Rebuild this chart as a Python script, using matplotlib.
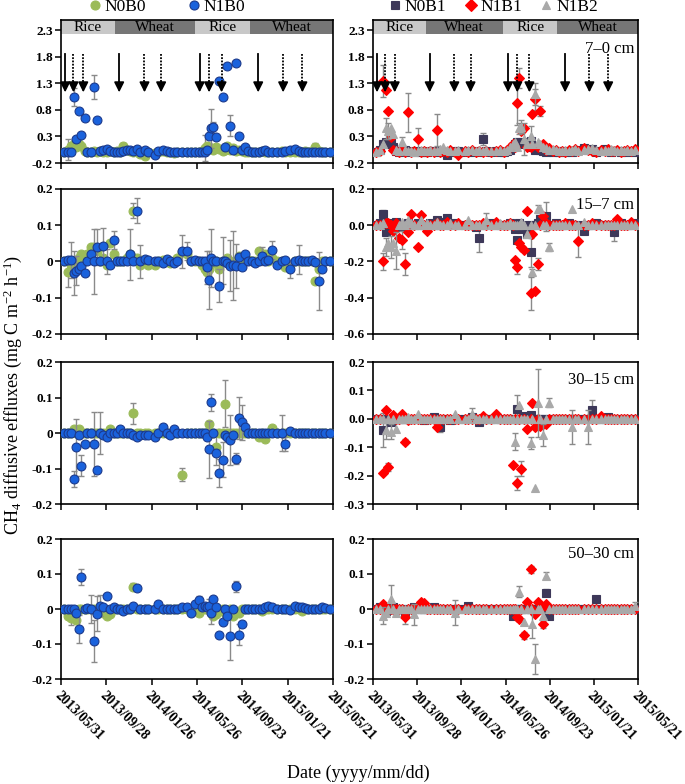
import numpy as np
import matplotlib
matplotlib.use('Agg')
import matplotlib.pyplot as plt
import matplotlib.dates as mdates
import matplotlib.transforms as mtransforms
from matplotlib.lines import Line2D

plt.rcParams['font.family'] = ['Liberation Serif', 'DejaVu Serif']
plt.rcParams['mathtext.fontset'] = 'custom'
plt.rcParams['mathtext.rm'] = 'Liberation Serif'
plt.rcParams['mathtext.it'] = 'Liberation Serif:italic'

# sampling days after 2013/05/31
start = '2013-05-31'
sample_days = [9, 18, 26, 34, 40, 48, 53, 63, 70, 79, 87, 95, 102, 112, 121, 130, 139,
               148, 156, 165, 174, 183, 190, 200, 209, 223, 231, 249, 258, 269, 280, 289, 298, 307, 320, 333, 344,
               355, 364, 373, 380, 386, 391, 397, 403, 410, 419, 428, 433, 440, 448, 455, 462, 471, 479, 488, 496, 505,
               514, 523, 532, 541, 549, 558, 572, 585, 594, 607, 620, 629, 638, 647, 655, 664, 673, 682, 691, 700, 713]

tick_dates = ['2013-05-31', '2013-09-28', '2014-01-26', '2014-05-26', '2014-09-23', '2015-01-21', '2015-05-21']
season_edges = ['2013-05-31', '2013-10-21', '2014-05-20', '2014-10-13', '2015-05-21']
season_names = ['Rice', 'Wheat', 'Rice', 'Wheat']
fert_solid = ['2013-06-11', '2013-11-01', '2014-06-02', '2014-11-04']
fert_dotted = ['2013-07-03', '2013-07-29', '2014-01-07', '2014-02-20',
               '2014-06-27', '2014-07-30', '2015-01-09', '2015-03-01']

depths = ['7\u20130 cm', '15\u20137 cm', '30\u201315 cm', '50\u201330 cm']

# ---- left column: N0B0, N1B0 ----
n0b0_7_0 = [0, .05, .12, .15, .1, .15, .12, .02, 0, 0, .02, .01, .02, .01, 0, .02, 0,
            .02, 0, .12, .05, .03, .01, 0, -.03, -.06, 0, -.02, 0, .02, 0, 0, -.02, 0, 0, 0, 0,
            0, 0, .02, .08, .12, .1, .08, .05, .1, .06, .03, .05, .12, .05, .08, .02, .04, .02, 0, 0, 0,
            0, 0, .02, 0, 0, 0, 0, .02, 0, 0, 0, 0, 0, .02, 0, .03, .1, .02, 0, 0, 0]
n1b0_7_0 = [0, 0, 0, 1.05, .25, .78, .32, .65, 0, 0, 1.23, .6, .02, .05, .07, .03, .01,
            0, 0, .02, .04, .05, .02, .06, .01, .04, .01, -.05, .02, .04, .03, .01, 0, .01, 0, .01, 0,
            0, 0, 0, 0, .05, .3, .45, .47, .28, 1.35, 1.05, .1, 1.63, .5, .05, 1.68, .3, .05, .1, .02, 0,
            0, 0, .02, .04, 0, 0, 0, 0, .03, .05, .06, .02, 0, 0, 0, 0, 0, 0, 0, 0, 0]
err_n0b0_7_0 = {1: .2, 19: .06, 40: .25, 74: .08}
err_n1b0_7_0 = {3: .17, 10: .22, 43: .37, 44: .1, 50: .2, 25: .05, 70: .06}

n0b0_15_7 = [0, -.03, -.01, -.02, -.01, .01, .02, 0, .02, .04, .04, .03, 0, .01, -.01, .05, .02,
             0, 0, 0, .01, .02, .14, .01, -.01, 0, -.01, -.01, 0, .005, 0, -.005, 0, .01, .025, .02, 0,
             0, 0, -.01, -.02, -.03, -.02, 0, -.005, 0, -.02, 0, 0, .01, 0, -.005, 0, .015, 0, 0, .005, 0,
             0, .028, .01, .02, 0, .01, 0, 0, -.015, -.01, 0, 0, 0, 0, 0, 0, -.055, -.02, 0, 0, 0]
n1b0_15_7 = [0, .005, .005, -.032, -.025, -.02, -.012, -.033, 0, .02, 0, .04, 0, .043, 0, -.01, .06,
             0, 0, 0, 0, .02, 0, .14, 0, .008, .005, 0, 0, -.005, .006, 0, -.005, 0, .028, .03, 0,
             .005, 0, 0, 0, -.016, -.051, .01, 0, 0, -.067, .002, 0, -.005, -.012, -.01, -.012, .012, -.014, .02, 0, 0,
             -.005, 0, .016, 0, .005, .032, -.01, 0, .005, -.021, 0, .005, 0, 0, 0, .005, -.002, -.055, -.021, 0, 0]
err_n0b0_15_7 = {1: .04, 22: .02}
err_n1b0_15_7 = {2: .05, 3: .06, 4: .04, 10: .09, 11: .05, 13: .05, 14: .035, 16: .025, 21: .07, 23: .035,
                 24: .045, 34: .045, 35: .025, 41: .045, 42: .08, 43: .08, 46: .045, 47: .065, 50: .07,
                 51: .095, 52: .06, 60: .025, 63: .025, 67: .025, 69: .04, 75: .08}

n0b0_30_15 = [0, 0, 0, .01, 0, .012, 0, 0, 0, 0, 0, 0, 0, 0, 0, .01, 0,
              0, 0, 0, 0, 0, .055, 0, 0, 0, 0, 0, 0, 0, 0, 0, 0, 0, -.117, 0, 0,
              0, 0, 0, 0, 0, .025, 0, 0, -.04, 0, 0, .083, 0, 0, 0, 0, 0, 0, 0, 0, 0,
              0, -.012, 0, -.017, 0, .015, 0, 0, 0, 0, 0, 0, 0, 0, 0, 0, 0, 0, 0, 0, 0]
n1b0_30_15 = [0, 0, 0, -.13, -.04, -.005, -.092, -.03, 0, 0, -.03, -.104, 0, -.005, -.01, 0, 0,
              0, .01, 0, 0, 0, -.005, -.012, -.005, -.005, -.005, -.012, 0, .017, 0, -.005, .012, 0, 0, 0, 0,
              0, 0, 0, 0, -.01, -.046, .086, 0, -.057, -.112, -.075, -.005, -.01, -.02, -.005, -.072, .042, .03, .018, 0, 0,
              0, 0, 0, 0, 0, 0, 0, 0, -.03, .005, 0, 0, 0, 0, 0, 0, 0, 0, 0, 0, 0]
err_n0b0_30_15 = {34: .018, 48: .065, 45: .05, 22: .03}
err_n1b0_30_15 = {3: .022, 4: .08, 6: .03, 10: .09, 12: .06, 42: .08, 43: .025, 46: .04, 47: .05,
                  50: .07, 52: .015, 53: .06, 54: .05, 66: .02, 65: .05}

n0b0_50_30 = [0, -.02, -.025, -.02, -.03, 0, 0, 0, 0, 0, 0, 0, 0, -.01, -.02, -.015, 0,
              0, 0, 0, 0, 0, .063, 0, 0, 0, 0, 0, 0, 0, 0, 0, 0, 0, 0, 0, 0,
              0, -.01, 0, 0, 0, 0, 0, -.02, -.015, 0, 0, -.01, -.02, 0, -.02, -.01, -.01, 0, 0, 0, 0,
              0, 0, -.005, 0, 0, 0, 0, 0, 0, 0, 0, 0, -.005, 0, 0, 0, 0, 0, 0, 0, 0]
n1b0_50_30 = [0, 0, 0, 0, -.012, -.057, .092, 0, .003, 0, -.092, -.014, .01, .005, .038, 0, .005,
              0, 0, -.006, 0, 0, .01, .06, 0, 0, 0, 0, .014, 0, 0, 0, 0, 0, .005, .005, -.01,
              .015, .027, .005, .01, .005, .01, -.012, .03, .005, -.074, -.038, 0, -.019, -.077, 0, .065, -.074, -.042, 0, 0, 0,
              0, 0, 0, .005, .008, .006, 0, 0, 0, -.003, .01, .006, .005, .002, 0, 0, 0, 0, .007, .003, 0]
err_n0b0_50_30 = {2: .02, 22: .01}
err_n1b0_50_30 = {5: .04, 6: .022, 9: .04, 10: .06, 11: .05, 12: .03, 38: .01, 42: .02, 43: .03,
                  50: .07, 52: .015, 53: .03}

# ---- right column: N0B1, N1B1, N1B2 ----
n0b1_7_0 = [0, .05, .15, .2, .15, .18, .1, .02, 0, .03, .05, 0, .03, 0, .02, 0, .01,
            0, .02, .03, 0, .02, 0, -.05, 0, .03, .03, 0, .02, 0, .02, 0, .25, .02, 0, .03, 0,
            0, .02, .05, .1, .15, .2, .2, .18, .15, .2, .22, .1, .05, .1, .05, .02, 0, .03, 0, .02, 0,
            .02, 0, .03, 0, .02, .05, .08, .05, .06, 0, .02, .07, .02, 0, .03, .02, 0, .02, 0, .03, 0]
n1b1_7_0 = [0, .03, 1.35, 1.18, .78, .28, .05, .02, 0, .05, 0, .75, 0, .03, .25, 0, .02,
            0, .03, 0, .42, 0, .03, 0, .05, 0, -.05, .03, 0, .04, 0, .03, 0, .03, 0, .02, .05,
            0, .05, .1, .15, .1, .92, 1.4, .4, .45, .1, .1, .73, 1.0, .1, .78, .15, .05, .08, .02, .05, 0,
            .03, 0, .05, .02, .06, .02, .08, .05, .02, 0, .04, .02, .06, .03, .02, .05, 0, .03, .05, .02, .06]
n1b2_7_0 = [0, .05, .15, .45, .4, .45, .35, .05, .02, .2, .05, .02, .03, 0, .02, .05, .03,
            .02, .05, .03, .02, .06, .1, .05, .03, .02, .05, .02, .04, .05, .03, .05, .02, .04, .02, .03, .05,
            .02, .05, .1, .15, .2, .1, .45, .48, .25, .15, .3, .15, 1.1, .2, .15, .1, .08, .05, .06, .04, .02,
            .03, .05, .02, .04, .06, .03, .05, .06, .08, .04, .02, .05, .03, .06, .04, .02, .05, .03, .04, .02, .05]
err_n0b1_7_0 = {32: .12, 42: .05}
err_n1b1_7_0 = {2: .3, 11: .37, 14: .2, 20: .3, 42: .4, 43: .18, 49: .2, 51: .1}
err_n1b2_7_0 = {3: .2, 4: .15, 9: .08, 43: .1, 44: .12, 45: .3, 47: .2, 49: .2}

n0b1_15_7 = [0, .01, .063, -.035, 0, .01, 0, .02, 0, -.01, 0, .01, 0, 0, .01, 0, 0,
             0, .01, 0, .03, 0, .02, .04, 0, .01, 0, 0, 0, 0, -.01, -.07, 0, 0, .01, 0, 0,
             0, 0, .01, 0, -.02, -.08, .01, -.02, 0, -.05, -.15, 0, 0, .01, .035, 0, .05, 0, 0, .01, 0,
             0, 0, .01, 0, 0, 0, -.03, 0, 0, .01, 0, 0, 0, 0, -.035, 0, .01, 0, 0, 0, .01]
n1b1_15_7 = [0, 0, -.2, .01, .01, 0, -.03, .01, -.07, -.08, -.213, -.04, .06, 0, -.12, .055, 0,
             -.03, 0, 0, .01, 0, 0, .02, 0, 0, .01, 0, 0, 0, 0, 0, .01, 0, 0, .02, 0,
             0, 0, .01, 0, -.19, -.23, -.1, -.12, -.135, .077, -.375, -.05, -.365, -.213, 0, .05, .015, 0, 0, 0, 0,
             0, .01, 0, 0, 0, -.085, 0, 0, .01, 0, 0, 0, 0, 0, 0, .035, 0, 0, 0, .02, 0]
n1b2_15_7 = [0, 0, .01, -.12, -.1, -.12, -.1, -.14, 0, .02, 0, .03, .01, 0, 0, .03, 0,
             .01, 0, 0, .02, 0, 0, 0, .01, 0, 0, 0, .03, 0, 0, 0, 0, .03, 0, 0, .01,
             0, 0, .01, 0, 0, 0, 0, .02, 0, -.05, 0, -.26, 0, .09, .09, 0, 0, -.12, 0, 0, 0,
             0, 0, 0, .09, 0, 0, .02, 0, 0, 0, 0, 0, 0, 0, 0, 0, 0, 0, 0, 0, 0]
err_n0b1_15_7 = {2: .02, 31: .08, 47: .08, 53: .08, 72: .05}
err_n1b1_15_7 = {2: .045, 9: .05, 10: .06, 42: .04, 47: .09, 50: .035, 63: .09}
err_n1b2_15_7 = {3: .05, 5: .06, 7: .1, 33: .04, 48: .02, 50: .02, 54: .02}

n0b1_30_15 = [0, 0, -.04, 0, 0, -.012, 0, 0, 0, 0, 0, 0, 0, 0, 0, 0, -.005,
              0, 0, .005, 0, -.028, 0, 0, -.005, 0, 0, 0, 0, .005, 0, -.012, 0, 0, 0, 0, 0,
              0, 0, 0, 0, 0, .035, 0, 0, .01, 0, .012, 0, 0, 0, 0, 0, 0, 0, 0, 0, 0,
              0, 0, 0, 0, 0, 0, 0, 0, .03, 0, 0, 0, .005, 0, 0, 0, 0, 0, 0, 0, 0]
n1b1_30_15 = [0, 0, -.19, .03, -.17, 0, .012, 0, 0, .017, -.08, -.005, 0, 0, 0, 0, 0,
              0, 0, 0, -.03, 0, 0, 0, 0, 0, 0, 0, 0, 0, 0, 0, .01, 0, 0, .017, 0,
              0, 0, 0, -.163, 0, -.225, 0, -.175, 0, -.035, 0, .055, -.03, 0, -.025, -.02, -.02, 0, 0, 0, 0,
              0, 0, 0, 0, 0, 0, 0, 0, 0, 0, .01, 0, 0, 0, 0, 0, 0, 0, 0, 0, 0]
n1b2_30_15 = [0, 0, 0, -.04, 0, -.045, 0, -.035, 0, 0, 0, .005, 0, 0, .017, 0, 0,
              0, 0, 0, 0, 0, 0, 0, 0, .017, 0, 0, 0, .017, 0, 0, 0, 0, 0, 0, 0,
              0, 0, 0, 0, -.08, 0, .05, 0, 0, 0, -.085, 0, -.245, .057, 0, -.057, 0, .057, 0, 0, 0,
              0, 0, 0, -.03, 0, 0, 0, -.03, 0, 0, 0, 0, 0, 0, 0, 0, 0, 0, 0, 0, 0]
err_n0b1_30_15 = {2: .06, 21: .02, 42: .05, 66: .035}
err_n1b1_30_15 = {4: .015, 10: .01, 42: .025, 44: .025}
err_n1b2_30_15 = {3: .03, 5: .025, 29: .02, 41: .03, 47: .02, 50: .12, 52: .04, 54: .015, 61: .06, 65: .06}

n0b1_50_30 = [0, .005, 0, -.005, 0, 0, .005, 0, 0, 0, -.005, 0, 0, .005, 0, 0, 0,
              0, 0, .005, 0, 0, 0, 0, 0, 0, 0, 0, .01, 0, 0, 0, 0, 0, 0, 0, 0,
              0, 0, 0, -.019, 0, 0, 0, 0, 0, 0, 0, 0, 0, 0, 0, 0, .047, -.019, 0, 0, 0,
              0, 0, 0, 0, 0, 0, 0, 0, 0, .028, 0, 0, 0, 0, 0, 0, 0, 0, 0, 0, 0]
n1b1_50_30 = [0, 0, .014, 0, 0, 0, 0, 0, 0, 0, -.022, 0, 0, 0, .01, .02, .018,
              0, 0, 0, 0, 0, 0, 0, 0, 0, 0, 0, 0, 0, 0, 0, 0, 0, 0, 0, 0,
              0, 0, 0, 0, 0, -.024, -.028, 0, -.075, .02, .114, 0, -.014, .02, 0, -.044, .014, 0, 0, 0, 0,
              0, 0, 0, 0, 0, 0, 0, 0, 0, 0, 0, 0, 0, 0, 0, 0, 0, 0, 0, 0, 0]
n1b2_50_30 = [0, 0, -.019, -.01, 0, .029, 0, -.01, 0, 0, 0, 0, 0, -.015, 0, 0, 0,
              0, 0, 0, 0, 0, 0, 0, 0, -.01, 0, 0, 0, 0, 0, 0, 0, 0, 0, 0, 0,
              0, 0, 0, 0, 0, 0, .05, 0, -.038, 0, 0, -.042, -.142, 0, 0, -.019, .095, 0, 0, 0, 0,
              0, 0, 0, 0, 0, 0, 0, 0, 0, 0, 0, 0, 0, 0, 0, 0, 0, 0, 0, 0, .01]
err_n0b1_50_30 = {53: .01, 67: .01}
err_n1b1_50_30 = {10: .02, 45: .01, 47: .01, 52: .01}
err_n1b2_50_30 = {2: .025, 5: .04, 13: .03, 25: .035, 43: .015, 48: .04, 49: .043, 53: .01, 78: .01}

# y axes per row
left_yticks = [[-0.2, 0.3, 0.8, 1.3, 1.8, 2.3], [-0.2, -0.1, 0, 0.1, 0.2],
               [-0.2, -0.1, 0, 0.1, 0.2], [-0.2, -0.1, 0, 0.1, 0.2]]
left_ylabels = [['-0.2', '0.3', '0.8', '1.3', '1.8', '2.3'], ['-0.2', '-0.1', '0', '0.1', '0.2'],
                ['-0.2', '-0.1', '0', '0.1', '0.2'], ['-0.2', '-0.1', '0', '0.1', '0.2']]
right_yticks = [[-0.2, 0.3, 0.8, 1.3, 1.8, 2.3], [-0.6, -0.4, -0.2, 0, 0.2],
                [-0.3, -0.2, -0.1, 0, 0.1, 0.2], [-0.2, -0.1, 0, 0.1, 0.2]]
right_ylabels = [['-0.2', '0.3', '0.8', '1.3', '1.8', '2.3'], ['-0.6', '-0.4', '-0.2', '0.0', '0.2'],
                 ['-0.3', '-0.2', '-0.1', '0.0', '0.1', '0.2'], ['-0.2', '-0.1', '0', '0.1', '0.2']]
left_ylims = [(-0.2, 2.49), (-0.2, 0.2), (-0.2, 0.2), (-0.2, 0.2)]
right_ylims = [(-0.2, 2.49), (-0.6, 0.2), (-0.3, 0.2), (-0.2, 0.2)]

left_data = [(n0b0_7_0, err_n0b0_7_0, n1b0_7_0, err_n1b0_7_0),
             (n0b0_15_7, err_n0b0_15_7, n1b0_15_7, err_n1b0_15_7),
             (n0b0_30_15, err_n0b0_30_15, n1b0_30_15, err_n1b0_30_15),
             (n0b0_50_30, err_n0b0_50_30, n1b0_50_30, err_n1b0_50_30)]
right_data = [(n0b1_7_0, err_n0b1_7_0, n1b1_7_0, err_n1b1_7_0, n1b2_7_0, err_n1b2_7_0),
              (n0b1_15_7, err_n0b1_15_7, n1b1_15_7, err_n1b1_15_7, n1b2_15_7, err_n1b2_15_7),
              (n0b1_30_15, err_n0b1_30_15, n1b1_30_15, err_n1b1_30_15, n1b2_30_15, err_n1b2_30_15),
              (n0b1_50_30, err_n0b1_50_30, n1b1_50_30, err_n1b1_50_30, n1b2_50_30, err_n1b2_50_30)]

dates = np.datetime64(start) + np.array(sample_days).astype('timedelta64[D]')
to_d = lambda lst: np.array(lst, dtype='datetime64[D]')

# styles: (marker, face, edge, size)
sty = {'N0B0': ('o', '#9bbb59', '#9bbb59', 6.4),
       'N1B0': ('o', '#1a62dc', '#1c3a8c', 6.4),
       'N0B1': ('s', '#3d3859', '#3d3859', 5.4),
       'N1B1': ('D', '#ff0000', '#ff0000', 4.8),
       'N1B2': ('^', '#a9a9a9', '#a9a9a9', 6.2)}

W, H = 685, 784
fig = plt.figure(figsize=(W / 100, H / 100), dpi=100)
rows_px = [(20, 163), (189, 334), (362, 504), (539, 679)]
cols_px = [(61, 333), (373, 638)]


def draw(ax, vals, errs, key, z):
    mk, fc, ec, ms = sty[key]
    v = np.array(vals, dtype=float)
    e = np.zeros(len(v))
    for k, x in errs.items():
        e[k] = x
    m = e > 0
    if m.any():
        ax.errorbar(dates[m], v[m], yerr=e[m], fmt='none', ecolor='#8a8a8a', elinewidth=1.0,
                    capsize=2.2, capthick=1.0, zorder=z - 0.5)
    ax.plot(dates, v, ls='none', marker=mk, ms=ms, mfc=fc, mec=ec, mew=0.8, zorder=z)


axes = {}
for c in range(2):
    for r in range(4):
        x0, x1 = cols_px[c]
        y0, y1 = rows_px[r]
        ax = fig.add_axes([x0 / W, 1 - y1 / H, (x1 - x0) / W, (y1 - y0) / H])
        axes[(r, c)] = ax
        if c == 0:
            a, ea, b, eb = left_data[r]
            draw(ax, a, ea, 'N0B0', 3)
            draw(ax, b, eb, 'N1B0', 4)
            ax.set_ylim(*left_ylims[r])
            ax.set_yticks(left_yticks[r])
            ax.set_yticklabels(left_ylabels[r])
        else:
            a, ea, b, eb, g, eg = right_data[r]
            draw(ax, a, ea, 'N0B1', 3)
            draw(ax, b, eb, 'N1B1', 4)
            draw(ax, g, eg, 'N1B2', 5)
            ax.set_ylim(*right_ylims[r])
            ax.set_yticks(right_yticks[r])
            ax.set_yticklabels(right_ylabels[r])
            ax.text(0.985, [0.80, 0.89, 0.87, 0.89][r], depths[r], transform=ax.transAxes,
                    ha='right', va='center', fontsize=12, zorder=10)
        ax.set_xlim(np.datetime64(tick_dates[0]), np.datetime64(tick_dates[-1]))
        ax.set_xticks(to_d(tick_dates))
        if r == 3:
            ax.xaxis.set_major_formatter(mdates.DateFormatter('%Y/%m/%d'))
            for lab in ax.get_xticklabels():
                lab.set_rotation(-45)
                lab.set_ha('left')
                lab.set_va('top')
                lab.set_rotation_mode('anchor')
                lab.set_fontweight('bold')
                lab.set_fontsize(10)
        else:
            ax.set_xticklabels([])
        for lab in ax.get_yticklabels():
            lab.set_fontweight('bold')
            lab.set_fontsize(9.5)
        ax.tick_params(direction='out', length=4, width=1.1, pad=2)
        ax.tick_params(axis='x', pad=3)
        for s in ax.spines.values():
            s.set_linewidth(1.2)

        if r == 0:
            ymin, ymax = ax.get_ylim()
            frac = (2.22 - ymin) / (ymax - ymin)
            trans = mtransforms.blended_transform_factory(ax.transData, ax.transAxes)
            edges = to_d(season_edges)
            for i, name in enumerate(season_names):
                col = '#c8c8c8' if name == 'Rice' else '#767676'
                ax.axvspan(edges[i], edges[i + 1], ymin=frac, ymax=1, color=col, lw=0, zorder=1)
                mid = edges[i] + (edges[i + 1] - edges[i]) // 2
                ax.text(mid, (frac + 1) / 2, name, transform=trans, ha='center', va='center',
                        fontsize=11, zorder=2)
            # fertilisation arrows
            for lst, ls in [(fert_solid, '-'), (fert_dotted, (0, (1, 0.8)))]:
                for d in to_d(lst):
                    ax.plot([d, d], [1.85, 1.28], color='k', lw=1.3, ls=ls, zorder=6)
                    ax.annotate('', xy=(d, 1.13), xytext=(d, 1.33),
                                arrowprops=dict(arrowstyle='-|>,head_length=0.6,head_width=0.3',
                                                color='k', lw=1.2, shrinkA=0, shrinkB=0), zorder=6)

# legends
h_left = [Line2D([], [], ls='none', marker=sty[k][0], mfc=sty[k][1], mec=sty[k][2], ms=6.5, mew=0.8)
          for k in ['N0B0', 'N1B0']]
axes[(0, 0)].legend(h_left, ['N0B0', 'N1B0'], loc='center', bbox_to_anchor=(0.385, 1.09), ncol=2,
                    frameon=False, handletextpad=0.05, columnspacing=2.3, handlelength=1.0,
                    fontsize=12.5, borderaxespad=0)
h_right = [Line2D([], [], ls='none', marker=sty[k][0], mfc=sty[k][1], mec=sty[k][2], ms=6, mew=0.8)
           for k in ['N0B1', 'N1B1', 'N1B2']]
axes[(0, 1)].legend(h_right, ['N0B1', 'N1B1', 'N1B2'], loc='center', bbox_to_anchor=(0.45, 1.09), ncol=3,
                    frameon=False, handletextpad=0.05, columnspacing=0.9, handlelength=1.0,
                    fontsize=12.5, borderaxespad=0)

fig.text(0.018, 0.496, 'CH$_4$ diffusive effluxes (mg C m$^{-2}$ h$^{-1}$)', rotation=90,
         ha='center', va='center', fontsize=13)
fig.text(0.523, 0.014, 'Date (yyyy/mm/dd)', ha='center', va='center', fontsize=13)

fig.savefig('out.png', dpi=100)
